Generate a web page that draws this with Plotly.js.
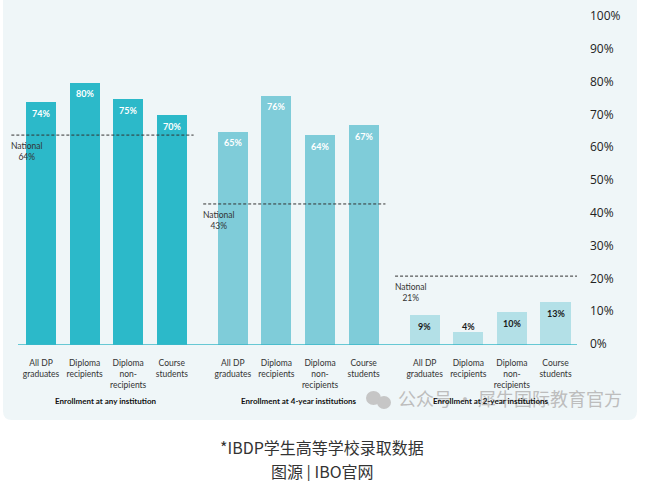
<!DOCTYPE html>
<html><head><meta charset="utf-8">
<script src="https://cdn.plot.ly/plotly-3.0.1.min.js"></script>
<style>html,body{margin:0;padding:0;background:#fff}#chart{width:645px;height:481px}</style>
</head><body><div id="chart"></div>
<script>
// ---- data ----
const categories = ["All DP<br>graduates", "Diploma<br>recipients", "Diploma<br>non-<br>recipients", "Course<br>students"];
const groupTitles = ["Enrollment at any institution", "Enrollment at 4-year institutions", "Enrollment at 2-year institutions"];
const anyInstitution = [74, 80, 75, 70];
const fourYear = [65, 76, 64, 67];
const twoYear = [9, 4, 10, 13];
const nationalRates = [64, 43, 21];
const nationalLabel = "National";
const yTickVals = [0, 10, 20, 30, 40, 50, 60, 70, 80, 90, 100];
const yTickLabels = ["0%", "10%", "20%", "30%", "40%", "50%", "60%", "70%", "80%", "90%", "100%"];
const captionLines = ["*IBDP学生高等学校录取数据", "图源 | IBO官网"];
const watermarkText = "公众号 · 犀牛国际教育官方";

// ---- styling / layout ----
const seriesValues = [anyInstitution, fourYear, twoYear];
const barColors = ["#2cb9c9", "#7fccd9", "#b3e0e7"];
const valueColors = ["#ffffff", "#ffffff", "#1a1a1a"];
const groupStride = 4.4;
const M = {l: 10, r: 68, t: 17, b: 136};
const W = 645, H = 481;
const PW = W - M.l - M.r, PH = H - M.t - M.b;
const px2x = p => (p - M.l) / PW;           // pixel -> paper x
const py2y = p => (H - M.b - p) / PH;        // pixel -> paper y

const traces = [];
const annotations = [];
const shapes = [];
const tickVals = [], tickText = [];

// panel background (rounded rect)
(function () {
  const x0 = 3, x1 = 637, y0 = -4, y1 = 420, r = 9;
  const X = px2x, Y = py2y;
  const path = `M ${X(x0)} ${Y(y0)} L ${X(x1)} ${Y(y0)} L ${X(x1)} ${Y(y1 - r)} Q ${X(x1)} ${Y(y1)} ${X(x1 - r)} ${Y(y1)} ` +
    `L ${X(x0 + r)} ${Y(y1)} Q ${X(x0)} ${Y(y1)} ${X(x0)} ${Y(y1 - r)} Z`;
  shapes.push({type: "path", xref: "paper", yref: "paper", path, fillcolor: "#eff6f8", line: {width: 0}, layer: "below"});
})();

// watermark icon
shapes.push({type: "circle", xref: "paper", yref: "paper", x0: px2x(366), x1: px2x(381), y0: py2y(405), y1: py2y(391), fillcolor: "#c6c6c6", line: {width: 0}});
shapes.push({type: "circle", xref: "paper", yref: "paper", x0: px2x(377), x1: px2x(391), y0: py2y(409), y1: py2y(396), fillcolor: "#c6c6c6", line: {width: 0}});
annotations.push({xref: "paper", yref: "paper", x: px2x(510), y: py2y(398), text: watermarkText, showarrow: false,
  xanchor: "center", yanchor: "middle", font: {family: "Noto Sans CJK SC", size: 18, color: "#bdbdbd"}});

seriesValues.forEach((vals, g) => {
  const xs = vals.map((v, i) => g * groupStride + i);
  traces.push({type: "bar", x: xs, y: vals, width: 0.69, marker: {color: barColors[g], line: {width: 0}},
    hoverinfo: "skip", showlegend: false});
  xs.forEach((x, i) => {
    tickVals.push(x); tickText.push(categories[i]);
    annotations.push({x, y: Math.max(vals[i], 9), yshift: -11, text: "<b>" + vals[i] + "%</b>", showarrow: false,
      font: {family: "Lato", size: 9, color: valueColors[g]}, xanchor: "center", yanchor: "middle"});
  });
  const xStart = xs[0] - 0.68, xEnd = xs[xs.length - 1] + 0.5;
  shapes.push({type: "line", xref: "x", yref: "y", x0: xStart, x1: xEnd, y0: nationalRates[g], y1: nationalRates[g],
    line: {color: "#333333", width: 1, dash: "3px,2px"}});
  annotations.push({x: xStart + 0.36, y: nationalRates[g], yshift: -4, text: nationalLabel + "<br>" + nationalRates[g] + "%",
    showarrow: false, xanchor: "center", yanchor: "top", align: "center",
    font: {family: "Lato", size: 8.5, color: "#333333"}});
  annotations.push({x: (xs[0] + xs[xs.length - 1]) / 2, y: 0, yshift: -56, text: "<b>" + groupTitles[g] + "</b>",
    showarrow: false, xanchor: "center", yanchor: "middle", font: {family: "Lato", size: 8, color: "#111111"}});
});

// baseline
shapes.push({type: "line", xref: "x", yref: "y", x0: -0.5275, x1: 12.293, y0: 0, y1: 0, line: {color: "#3ab8c8", width: 1.5}});

// captions
captionLines.forEach((t, i) => {
  annotations.push({xref: "paper", yref: "paper", x: px2x(322), y: py2y(447 + i * 24), text: t, showarrow: false,
    xanchor: "center", yanchor: "middle", font: {family: "Noto Sans CJK SC", size: 16, color: "#333333"}});
});

const layout = {
  width: W, height: H, margin: M,
  paper_bgcolor: "#ffffff", plot_bgcolor: "rgba(0,0,0,0)",
  bargap: 0, showlegend: false,
  xaxis: {range: [-0.711, 12.293], tickvals: tickVals, ticktext: tickText, showgrid: false, zeroline: false,
    showline: false, ticks: "", tickangle: 0, ticklabelstandoff: 11,
    tickfont: {family: "Lato", size: 8.5, color: "#333333"}, fixedrange: true},
  yaxis: {range: [0, 100], side: "right", tickvals: yTickVals, ticktext: yTickLabels, showgrid: false, zeroline: false,
    showline: false, ticks: "", ticklabelstandoff: 12, ticklabelshift: -1,
    tickfont: {family: "Open Sans", size: 12, color: "#222222"}, fixedrange: true},
  shapes, annotations
};
Plotly.newPlot("chart", traces, layout, {staticPlot: true, displayModeBar: false});
</script>
</body></html>
